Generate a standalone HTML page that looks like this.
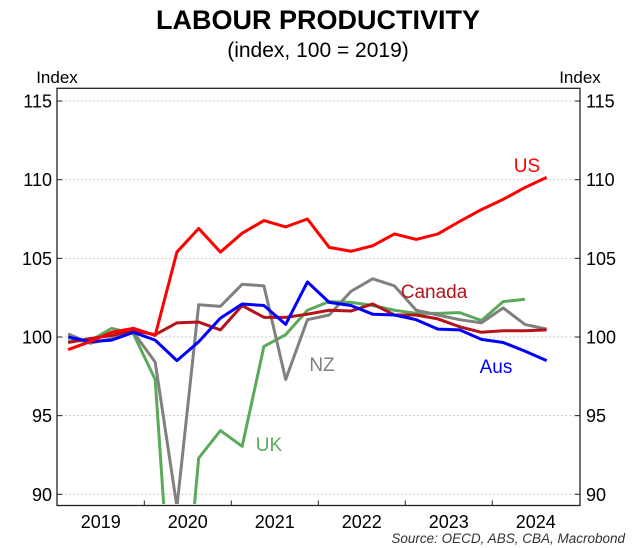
<!DOCTYPE html>
<html><head><meta charset="utf-8"><style>
html,body{margin:0;padding:0;background:#fff;overflow:hidden;width:636px;height:548px;}
svg{display:block;font-family:"Liberation Sans",Arial,sans-serif;}
</style></head><body>
<svg id="chart" width="636" height="548" viewBox="0 0 636 548" xmlns="http://www.w3.org/2000/svg">
<text x="318" y="29" text-anchor="middle" font-size="27" font-weight="bold">LABOUR PRODUCTIVITY</text>
<text x="318" y="57" text-anchor="middle" font-size="21">(index, 100 = 2019)</text>
<text x="57" y="83" text-anchor="middle" font-size="17">Index</text>
<text x="580" y="83" text-anchor="middle" font-size="17">Index</text>
<g id="grid"></g>
<g id="series"></g>
<rect x="57" y="88.3" width="523" height="417.2" fill="none" stroke="#222" stroke-width="1.3"/>
<g id="axes"></g>
<text x="625" y="543" text-anchor="end" font-size="13.5" font-style="italic" fill="#333">Source: OECD, ABS, CBA, Macrobond</text>
</svg>
<script>
const yTicks = [90, 95, 100, 105, 110, 115];
const years = ["2019","2020","2021","2022","2023","2024"];
const us = [99.2,99.7,100.3,100.55,100.1,105.4,106.9,105.4,106.6,107.4,107.0,107.5,105.7,105.45,105.8,106.55,106.2,106.55,107.35,108.1,108.75,109.5,110.15];
const aus = [100.0,99.7,99.8,100.3,99.8,98.5,99.7,101.2,102.1,102.0,100.8,103.5,102.2,102.0,101.45,101.4,101.1,100.5,100.45,99.85,99.65,99.1,98.5];
const canada = [99.65,99.9,100.1,100.4,100.15,100.9,100.95,100.45,102.0,101.25,101.25,101.45,101.7,101.65,102.1,101.4,101.4,101.15,100.65,100.3,100.4,100.4,100.45];
const nz = [100.2,99.6,99.9,100.3,98.4,89.2,102.05,101.95,103.35,103.25,97.3,101.1,101.4,102.9,103.7,103.25,101.7,101.4,101.1,100.9,101.85,100.8,100.5];
const uk = [99.75,99.75,100.55,100.2,97.3,77,92.3,94.05,93.05,99.4,100.15,101.7,102.25,102.2,102.0,101.7,101.5,101.5,101.55,101.05,102.25,102.4];

const NS="http://www.w3.org/2000/svg";
const L=57.3, R=580, T=88.3, B=504, QW=21.75;
const x = i => L + QW*(i+0.5);
const y = v => 337 - (v-100)*15.73;
function mk(tag, attrs, parent){const e=document.createElementNS(NS,tag);for(const k in attrs)e.setAttribute(k,attrs[k]);parent.appendChild(e);return e;}
const grid=document.getElementById('grid'), axes=document.getElementById('axes'), ser=document.getElementById('series');
yTicks.forEach(v=>{
  const g=mk('line',{x1:L,x2:R,y1:y(v),y2:y(v),stroke:'#c8c8c8','stroke-width':1,'stroke-dasharray':'2,2'},grid);
  
  
  mk('line',{x1:L,x2:L+5,y1:y(v),y2:y(v),stroke:'#222'},axes);
  mk('line',{x1:R-5,x2:R,y1:y(v),y2:y(v),stroke:'#222'},axes);
  const tl=mk('text',{x:52,y:y(v)+6.5,'text-anchor':'end','font-size':18},axes);
  tl.textContent=v;
  
  
  const tr=mk('text',{x:586,y:y(v)+6.5,'text-anchor':'start','font-size':18},axes);
  tr.textContent=v;
  
  
});
years.forEach((yr,k)=>{
  const x0=L+k*4*QW;
  if(k>0) mk('line',{x1:x0,x2:x0,y1:505.5,y2:500.5,stroke:'#222'},axes);
  const t=mk('text',{x:x0+2*QW,y:528,'text-anchor':'middle','font-size':18},axes);
  t.textContent=yr;
  
  
});
// split a polyline at the bottom boundary so nothing extends outside the plot
function segments(data){
  const pts=data.map((v,i)=>[x(i),y(v)]);
  const out=[];let cur=[];
  for(let i=0;i<pts.length;i++){
    const p=pts[i], inside=p[1]<=B;
    if(i>0){
      const q=pts[i-1], qin=q[1]<=B;
      if(qin!==inside){
        const t=(B-q[1])/(p[1]-q[1]);
        const c=[q[0]+t*(p[0]-q[0]),B];
        cur.push(c);
        if(qin){out.push(cur);cur=[];}
      }
    }
    if(inside)cur.push(p);
  }
  if(cur.length)out.push(cur);
  return out;
}
function line(data,color,name){
  segments(data).forEach(s=>{
    const p=mk('polyline',{points:s.map(c=>c[0]+','+c[1]).join(' '),fill:'none',stroke:color,'stroke-width':3,'stroke-linejoin':'round'},ser);
    
    
  });
}
line(uk,'#5aaa5a','uk-line');
line(nz,'#808080','nz-line');
line(canada,'#b5121b','canada-line');
line(aus,'#0000ff','aus-line');
line(us,'#ff0000','us-line');
const labels=[["US",527,172,'#ff0000'],["Canada",434,298,'#b5121b'],["NZ",322,371,'#808080'],["Aus",496,373,'#0000ff'],["UK",269,451,'#5aaa5a']];
labels.forEach(l=>{
  const t=mk('text',{x:l[1],y:l[2],'text-anchor':'middle','font-size':19,fill:l[3]},axes);
  t.textContent=l[0];
  
  
});
</script>
</body></html>
